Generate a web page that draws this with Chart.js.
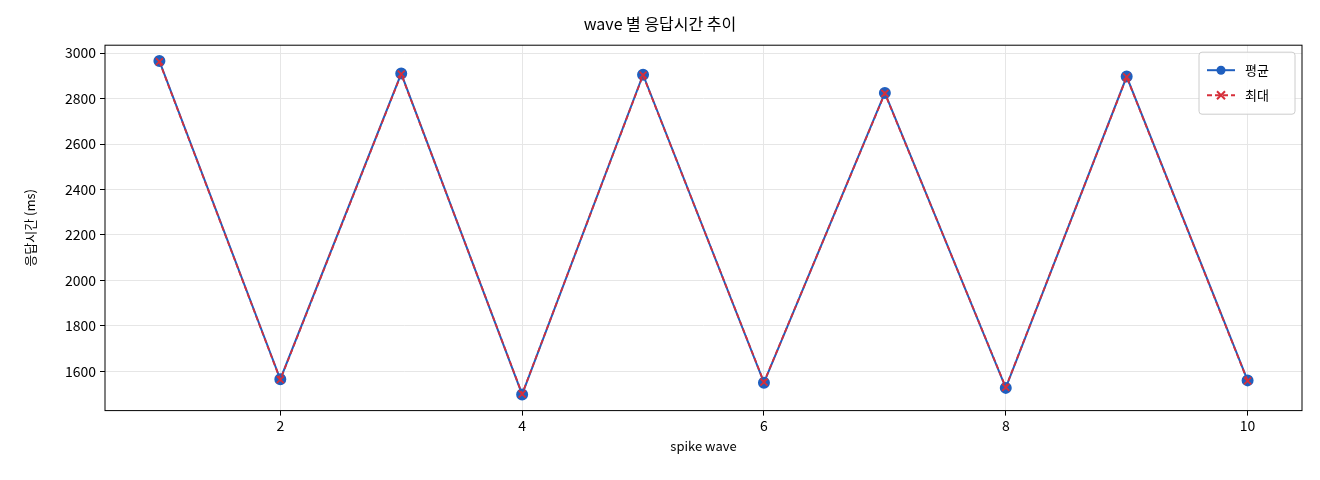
<!DOCTYPE html>
<html><head><meta charset="utf-8">
<script src="https://cdn.jsdelivr.net/npm/chart.js@4/dist/chart.umd.min.js"></script>
<style>html,body{margin:0;background:#fff}#w{width:1320px;height:480px}</style>
</head><body><div id="w"><canvas id="c"></canvas></div>
<script>
const waves=[1,2,3,4,5,6,7,8,9,10];
const avgMs=[2965,1565,2910,1498,2905,1550,2825,1527,2897,1560];
const maxMs=[2963,1563,2908,1500,2903,1552,2823,1529,2895,1558];
const xTicks=[2,4,6,8,10];
const yTicks=[1600,1800,2000,2200,2400,2600,2800,3000];
const F="'Noto Sans CJK KR','DejaVu Sans',sans-serif";
const frame={id:'frame',afterDraw(ch){const a=ch.chartArea,c=ch.ctx;c.save();c.strokeStyle='#000';c.lineWidth=1;c.strokeRect(a.left,a.top,a.right-a.left,a.bottom-a.top);
const x=a.right-103,y=a.top+7,w=96,h=62;c.fillStyle='rgba(255,255,255,0.85)';c.strokeStyle='#ccc';c.beginPath();c.roundRect(x,y,w,h,3);c.fill();c.stroke();
c.font='13px '+F;c.textBaseline='middle';
c.strokeStyle='#1f5fbf';c.lineWidth=2;c.setLineDash([]);c.beginPath();c.moveTo(x+8,y+18);c.lineTo(x+36,y+18);c.stroke();
c.fillStyle='#1f5fbf';c.beginPath();c.arc(x+22,y+18,4.5,0,7);c.fill();
c.fillStyle='#000';c.fillText('평균',x+46,y+18);
c.strokeStyle='#d62f3a';c.setLineDash([5,3]);c.beginPath();c.moveTo(x+8,y+43);c.lineTo(x+36,y+43);c.stroke();c.setLineDash([]);
c.beginPath();c.moveTo(x+18,y+39);c.lineTo(x+26,y+47);c.moveTo(x+26,y+39);c.lineTo(x+18,y+47);c.stroke();
c.fillStyle='#000';c.fillText('최대',x+46,y+43);c.restore();}};
new Chart(document.getElementById('c'),{type:'line',
data:{datasets:[
{label:'평균',order:1,data:waves.map((w,i)=>({x:w,y:avgMs[i]})),borderColor:'#1f5fbf',backgroundColor:'#1f5fbf',borderWidth:2,pointRadius:5,pointHoverRadius:5,tension:0},
{label:'최대',order:0,data:waves.map((w,i)=>({x:w,y:maxMs[i]})),borderColor:'#d62f3a',backgroundColor:'#d62f3a',borderWidth:1.8,borderDash:[5,3],pointStyle:'crossRot',pointRadius:5,pointBorderWidth:1.8,tension:0}
]},
options:{responsive:true,maintainAspectRatio:false,animation:false,
layout:{padding:{left:18,right:18,top:0,bottom:22}},
plugins:{legend:{display:false},tooltip:{enabled:false},
title:{display:true,text:'wave 별 응답시간 추이',color:'#000',font:{family:F,size:16,weight:'normal'},padding:{top:14,bottom:12}}},
scales:{
x:{type:'linear',min:0.55,max:10.45,afterBuildTicks(s){s.ticks=xTicks.map(v=>({value:v}))},
grid:{color:'#e6e6e6',drawTicks:true,tickLength:5,tickColor:'#000'},border:{display:false},
ticks:{color:'#000',font:{family:F,size:14},padding:2,callback:v=>String(v)},
title:{display:true,text:'spike wave',color:'#000',font:{family:F,size:13},padding:{top:2}}},
y:{min:1427,max:3035,afterBuildTicks(s){s.ticks=yTicks.map(v=>({value:v}))},
afterFit(s){s.width=87},
grid:{color:'#e6e6e6',tickLength:5,tickColor:'#000'},border:{display:false},
ticks:{color:'#000',font:{family:F,size:14},padding:4,callback:v=>String(v)},
title:{display:true,text:'응답시간 (ms)',color:'#000',font:{family:F,size:13}}}}},
plugins:[frame]});
</script></body></html>
